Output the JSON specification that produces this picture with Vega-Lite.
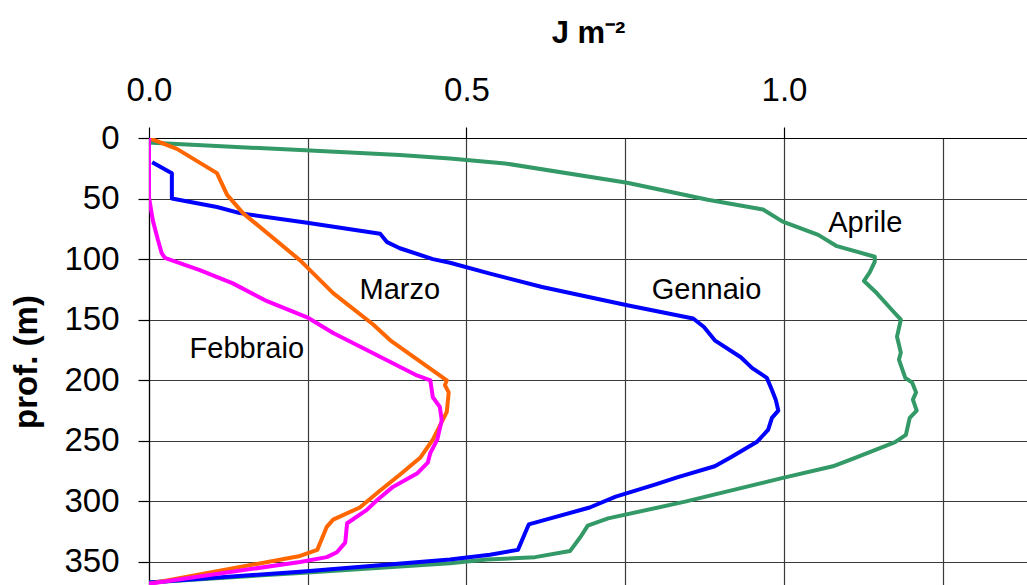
{
  "$schema": "https://vega.github.io/schema/vega-lite/v6.json",
  "width": 878,
  "height": 447,
  "autosize": {"type": "none"},
  "padding": {"left": 149, "top": 138, "right": 0, "bottom": 0},
  "background": "white",
  "config": {
    "view": {"stroke": null},
    "font": "Liberation Sans",
    "axis": {
      "labelFont": "Liberation Sans",
      "titleFont": "Liberation Sans",
      "labelColor": "black",
      "titleColor": "black",
      "domainColor": "black",
      "domainWidth": 1.2,
      "tickColor": "black",
      "tickWidth": 1.2,
      "gridColor": "#3a3a3a",
      "gridWidth": 1.2,
      "gridOpacity": 1
    }
  },
  "datasets": {
    "profiles": [
      {"mese": "Aprile", "x": 0, "d": 0},
      {"mese": "Aprile", "x": 0.005, "d": 4},
      {"mese": "Aprile", "x": 0.044, "d": 5},
      {"mese": "Aprile", "x": 0.238, "d": 10},
      {"mese": "Aprile", "x": 0.395, "d": 14},
      {"mese": "Aprile", "x": 0.474, "d": 17},
      {"mese": "Aprile", "x": 0.561, "d": 21},
      {"mese": "Aprile", "x": 0.753, "d": 37},
      {"mese": "Aprile", "x": 0.88, "d": 51},
      {"mese": "Aprile", "x": 0.967, "d": 59},
      {"mese": "Aprile", "x": 0.998, "d": 69},
      {"mese": "Aprile", "x": 1.054, "d": 80},
      {"mese": "Aprile", "x": 1.082, "d": 89},
      {"mese": "Aprile", "x": 1.143, "d": 98},
      {"mese": "Aprile", "x": 1.143, "d": 102},
      {"mese": "Aprile", "x": 1.135, "d": 111},
      {"mese": "Aprile", "x": 1.126, "d": 118},
      {"mese": "Aprile", "x": 1.146, "d": 128},
      {"mese": "Aprile", "x": 1.17, "d": 142},
      {"mese": "Aprile", "x": 1.184, "d": 150},
      {"mese": "Aprile", "x": 1.178, "d": 164},
      {"mese": "Aprile", "x": 1.184, "d": 177},
      {"mese": "Aprile", "x": 1.181, "d": 183},
      {"mese": "Aprile", "x": 1.191, "d": 198},
      {"mese": "Aprile", "x": 1.202, "d": 202},
      {"mese": "Aprile", "x": 1.208, "d": 210},
      {"mese": "Aprile", "x": 1.203, "d": 216},
      {"mese": "Aprile", "x": 1.209, "d": 225},
      {"mese": "Aprile", "x": 1.198, "d": 231},
      {"mese": "Aprile", "x": 1.192, "d": 245},
      {"mese": "Aprile", "x": 1.175, "d": 251},
      {"mese": "Aprile", "x": 1.112, "d": 264},
      {"mese": "Aprile", "x": 1.077, "d": 271},
      {"mese": "Aprile", "x": 0.995, "d": 281},
      {"mese": "Aprile", "x": 0.846, "d": 300},
      {"mese": "Aprile", "x": 0.723, "d": 314},
      {"mese": "Aprile", "x": 0.691, "d": 320},
      {"mese": "Aprile", "x": 0.68, "d": 329},
      {"mese": "Aprile", "x": 0.663, "d": 341},
      {"mese": "Aprile", "x": 0.608, "d": 346},
      {"mese": "Aprile", "x": 0.532, "d": 348},
      {"mese": "Aprile", "x": 0.474, "d": 351},
      {"mese": "Aprile", "x": 0.238, "d": 359},
      {"mese": "Aprile", "x": 0, "d": 367},
      {"mese": "Gennaio", "x": 0.005, "d": 20},
      {"mese": "Gennaio", "x": 0.036, "d": 29},
      {"mese": "Gennaio", "x": 0.036, "d": 50},
      {"mese": "Gennaio", "x": 0.107, "d": 57},
      {"mese": "Gennaio", "x": 0.143, "d": 62},
      {"mese": "Gennaio", "x": 0.249, "d": 70},
      {"mese": "Gennaio", "x": 0.364, "d": 79},
      {"mese": "Gennaio", "x": 0.375, "d": 86},
      {"mese": "Gennaio", "x": 0.395, "d": 91},
      {"mese": "Gennaio", "x": 0.447, "d": 100},
      {"mese": "Gennaio", "x": 0.474, "d": 103},
      {"mese": "Gennaio", "x": 0.537, "d": 112},
      {"mese": "Gennaio", "x": 0.619, "d": 123},
      {"mese": "Gennaio", "x": 0.753, "d": 138},
      {"mese": "Gennaio", "x": 0.857, "d": 149},
      {"mese": "Gennaio", "x": 0.874, "d": 156},
      {"mese": "Gennaio", "x": 0.891, "d": 167},
      {"mese": "Gennaio", "x": 0.932, "d": 181},
      {"mese": "Gennaio", "x": 0.95, "d": 190},
      {"mese": "Gennaio", "x": 0.973, "d": 198},
      {"mese": "Gennaio", "x": 0.981, "d": 208},
      {"mese": "Gennaio", "x": 0.987, "d": 216},
      {"mese": "Gennaio", "x": 0.991, "d": 225},
      {"mese": "Gennaio", "x": 0.981, "d": 231},
      {"mese": "Gennaio", "x": 0.975, "d": 241},
      {"mese": "Gennaio", "x": 0.957, "d": 251},
      {"mese": "Gennaio", "x": 0.915, "d": 264},
      {"mese": "Gennaio", "x": 0.891, "d": 271},
      {"mese": "Gennaio", "x": 0.833, "d": 280},
      {"mese": "Gennaio", "x": 0.798, "d": 286},
      {"mese": "Gennaio", "x": 0.735, "d": 296},
      {"mese": "Gennaio", "x": 0.694, "d": 305},
      {"mese": "Gennaio", "x": 0.625, "d": 315},
      {"mese": "Gennaio", "x": 0.598, "d": 319},
      {"mese": "Gennaio", "x": 0.581, "d": 340},
      {"mese": "Gennaio", "x": 0.537, "d": 344},
      {"mese": "Gennaio", "x": 0.474, "d": 348},
      {"mese": "Gennaio", "x": 0.238, "d": 358},
      {"mese": "Gennaio", "x": 0, "d": 367},
      {"mese": "Marzo", "x": 0, "d": 0},
      {"mese": "Marzo", "x": 0.044, "d": 9},
      {"mese": "Marzo", "x": 0.107, "d": 29},
      {"mese": "Marzo", "x": 0.123, "d": 47},
      {"mese": "Marzo", "x": 0.148, "d": 62},
      {"mese": "Marzo", "x": 0.238, "d": 101},
      {"mese": "Marzo", "x": 0.29, "d": 128},
      {"mese": "Marzo", "x": 0.353, "d": 154},
      {"mese": "Marzo", "x": 0.38, "d": 167},
      {"mese": "Marzo", "x": 0.469, "d": 200},
      {"mese": "Marzo", "x": 0.466, "d": 204},
      {"mese": "Marzo", "x": 0.472, "d": 210},
      {"mese": "Marzo", "x": 0.469, "d": 226},
      {"mese": "Marzo", "x": 0.447, "d": 249},
      {"mese": "Marzo", "x": 0.427, "d": 264},
      {"mese": "Marzo", "x": 0.395, "d": 278},
      {"mese": "Marzo", "x": 0.364, "d": 291},
      {"mese": "Marzo", "x": 0.332, "d": 305},
      {"mese": "Marzo", "x": 0.29, "d": 315},
      {"mese": "Marzo", "x": 0.28, "d": 321},
      {"mese": "Marzo", "x": 0.265, "d": 340},
      {"mese": "Marzo", "x": 0.238, "d": 345},
      {"mese": "Marzo", "x": 0, "d": 368},
      {"mese": "Febbraio", "x": 0, "d": 0},
      {"mese": "Febbraio", "x": 0, "d": 49},
      {"mese": "Febbraio", "x": 0.006, "d": 68},
      {"mese": "Febbraio", "x": 0.014, "d": 84},
      {"mese": "Febbraio", "x": 0.02, "d": 95},
      {"mese": "Febbraio", "x": 0.025, "d": 99},
      {"mese": "Febbraio", "x": 0.08, "d": 109},
      {"mese": "Febbraio", "x": 0.132, "d": 120},
      {"mese": "Febbraio", "x": 0.183, "d": 134},
      {"mese": "Febbraio", "x": 0.249, "d": 148},
      {"mese": "Febbraio", "x": 0.29, "d": 161},
      {"mese": "Febbraio", "x": 0.343, "d": 175},
      {"mese": "Febbraio", "x": 0.384, "d": 186},
      {"mese": "Febbraio", "x": 0.422, "d": 196},
      {"mese": "Febbraio", "x": 0.443, "d": 200},
      {"mese": "Febbraio", "x": 0.447, "d": 214},
      {"mese": "Febbraio", "x": 0.458, "d": 222},
      {"mese": "Febbraio", "x": 0.461, "d": 233},
      {"mese": "Febbraio", "x": 0.454, "d": 249},
      {"mese": "Febbraio", "x": 0.443, "d": 260},
      {"mese": "Febbraio", "x": 0.439, "d": 268},
      {"mese": "Febbraio", "x": 0.422, "d": 277},
      {"mese": "Febbraio", "x": 0.384, "d": 288},
      {"mese": "Febbraio", "x": 0.359, "d": 299},
      {"mese": "Febbraio", "x": 0.343, "d": 307},
      {"mese": "Febbraio", "x": 0.312, "d": 318},
      {"mese": "Febbraio", "x": 0.309, "d": 334},
      {"mese": "Febbraio", "x": 0.296, "d": 342},
      {"mese": "Febbraio", "x": 0.28, "d": 346},
      {"mese": "Febbraio", "x": 0.238, "d": 350},
      {"mese": "Febbraio", "x": 0, "d": 368}
    ],
    "labels": [
      {"label": "Marzo", "x": 0.395, "d": 133},
      {"label": "Febbraio", "x": 0.154, "d": 181.5},
      {"label": "Gennaio", "x": 0.878, "d": 133},
      {"label": "Aprile", "x": 1.128, "d": 77.3}
    ]
  },
  "layer": [
    {
      "data": {"name": "profiles"},
      "mark": {"type": "line", "strokeWidth": 4, "strokeJoin": "round", "clip": true},
      "encoding": {
        "x": {
          "field": "x",
          "type": "quantitative",
          "scale": {"domain": [0, 1.3827], "nice": false, "zero": false},
          "axis": {
            "orient": "top",
            "title": "J m⁻²",
            "titleFontSize": 31,
            "titleFontWeight": "bold",
            "titlePadding": 25,
            "values": [0, 0.25, 0.5, 0.75, 1, 1.25],
            "labelExpr": "datum.value % 0.5 === 0 ? format(datum.value, '.1f') : ''",
            "labelFontSize": 33,
            "labelPadding": 20,
            "labelFlush": false,
            "labelOverlap": false,
            "labelBound": false,
            "tickSize": 11,
            "tickOpacity": {"condition": {"test": "datum.value % 0.5 === 0", "value": 1}, "value": 0},
            "grid": true
          }
        },
        "y": {
          "field": "d",
          "type": "quantitative",
          "scale": {"domain": [0, 369], "nice": false, "reverse": true, "zero": false},
          "axis": {
            "orient": "left",
            "title": "prof. (m)",
            "titleFontSize": 33,
            "titleFontWeight": "bold",
            "titlePadding": 20,
            "values": [0, 50, 100, 150, 200, 250, 300, 350],
            "labelFontSize": 33,
            "labelPadding": 19,
            "labelFlush": false,
            "labelOverlap": false,
            "labelBound": false,
            "tickSize": 11,
            "grid": true
          }
        },
        "color": {
          "field": "mese",
          "type": "nominal",
          "scale": {
            "domain": ["Febbraio", "Gennaio", "Marzo", "Aprile"],
            "range": ["#FF00FF", "#0000FF", "#FF6600", "#339966"]
          },
          "legend": null
        },
        "order": {"field": "d", "type": "quantitative"}
      }
    },
    {
      "data": {"name": "labels"},
      "mark": {"type": "text", "fontSize": 29, "font": "Liberation Sans", "align": "center", "baseline": "alphabetic", "color": "black"},
      "encoding": {
        "x": {"field": "x", "type": "quantitative"},
        "y": {"field": "d", "type": "quantitative"},
        "text": {"field": "label", "type": "nominal"}
      }
    }
  ]
}
